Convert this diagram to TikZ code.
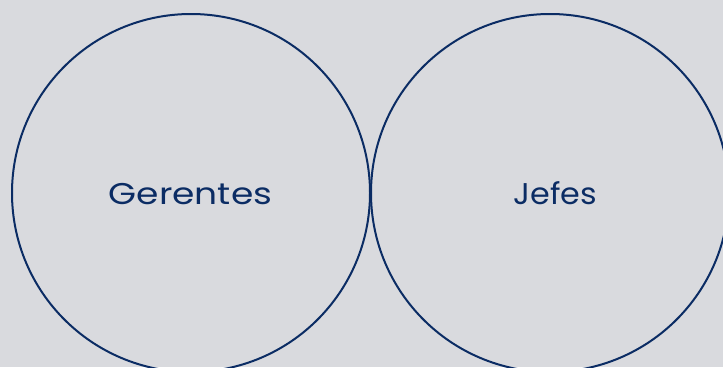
\documentclass[tikz,border=0pt]{standalone}
\usepackage{fontspec}
\usepackage{graphicx}
\setmainfont{Poppins}
\definecolor{bg}{HTML}{D9DADE}
\definecolor{navy}{HTML}{0B2C64}
\begin{document}
\begin{tikzpicture}[x=1pt,y=-1pt,
  ring/.style={draw=navy,line width=2pt,circle,minimum size=358pt,inner sep=0pt},
  lbl/.style={text=navy,font=\fontsize{30}{30}\selectfont,inner sep=0pt,anchor=base}]
\fill[bg] (0,0) rectangle (723,367);
\useasboundingbox (0,0) rectangle (723,367);
\begin{scope}
\clip (0,0) rectangle (723,367);
\node[ring] (left) at (191,193) {};
\node[ring] (right) at (550,193) {};
\end{scope}
\node[lbl] (g) at (190.5,204) {\scalebox{1.2}[1]{Gerentes}};
\node[lbl] (j) at (555.5,204) {\scalebox{1.06}[1]{Jefes}};
\end{tikzpicture}
\end{document}
